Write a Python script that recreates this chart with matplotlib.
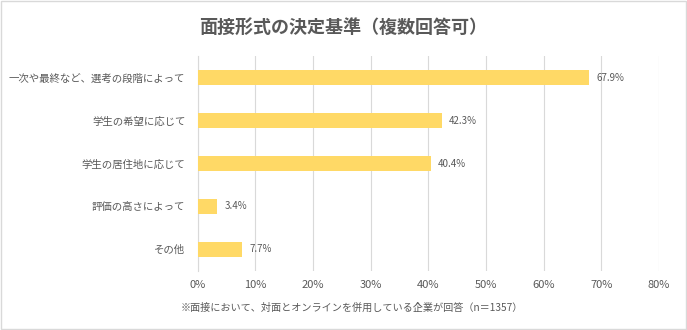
import matplotlib
matplotlib.use('Agg')
import matplotlib.pyplot as plt
from matplotlib.patches import Rectangle
from matplotlib.ticker import FuncFormatter

plt.rcParams['font.family'] = ['Noto Sans CJK JP', 'DejaVu Sans']

# 回答項目と割合(%)
categories = ['一次や最終など、選考の段階によって', '学生の希望に応じて', '学生の居住地に応じて',
              '評価の高さによって', 'その他']
values = [67.9, 42.3, 40.4, 3.4, 7.7]
xticks = [0, 10, 20, 30, 40, 50, 60, 70, 80]

text_color = '#595959'
bar_color = '#FFD966'
grid_color = '#D9D9D9'

fig = plt.figure(figsize=(6.87, 3.30), dpi=100)
ax = fig.add_axes([0.288, 0.180, 0.671, 0.649])

y = list(range(len(categories)))
ax.barh(y, values, height=0.35, color=bar_color, zorder=3)
for yi, v in zip(y, values):
    ax.text(v + 1.3, yi, f'{v:.1f}%', va='center', ha='left', fontsize=7, color=text_color)

ax.set_yticks(y)
ax.set_yticklabels(categories, fontsize=7.5, color=text_color)
ax.set_ylim(len(categories) - 0.5, -0.5)
ax.set_xlim(0, 80)
ax.set_xticks(xticks)
ax.xaxis.set_major_formatter(FuncFormatter(lambda v, p: f'{v:.0f}%'))
ax.tick_params(axis='x', labelsize=8, labelcolor=text_color, length=0, pad=7)
ax.tick_params(axis='y', length=0, pad=9)
ax.grid(axis='x', color=grid_color, linewidth=0.8, zorder=0)
for s in ['top', 'right', 'bottom']:
    ax.spines[s].set_visible(False)
ax.spines['left'].set_color(grid_color)
ax.spines['left'].set_linewidth(0.8)

fig.text(0.5, 0.918, '面接形式の決定基準（複数回答可）', ha='center', va='center',
         fontsize=13, fontweight='bold', color=text_color)
fig.text(0.263, 0.068, '※面接において、対面とオンラインを併用している企業が回答（n＝1357）',
         ha='left', va='center', fontsize=7.3, color=text_color)

# 外枠
fig.add_artist(Rectangle((0.001, 0.002), 0.997, 0.995, transform=fig.transFigure,
                         fill=False, edgecolor='#D9D9D9', linewidth=1))

fig.savefig('out.png', dpi=100)
